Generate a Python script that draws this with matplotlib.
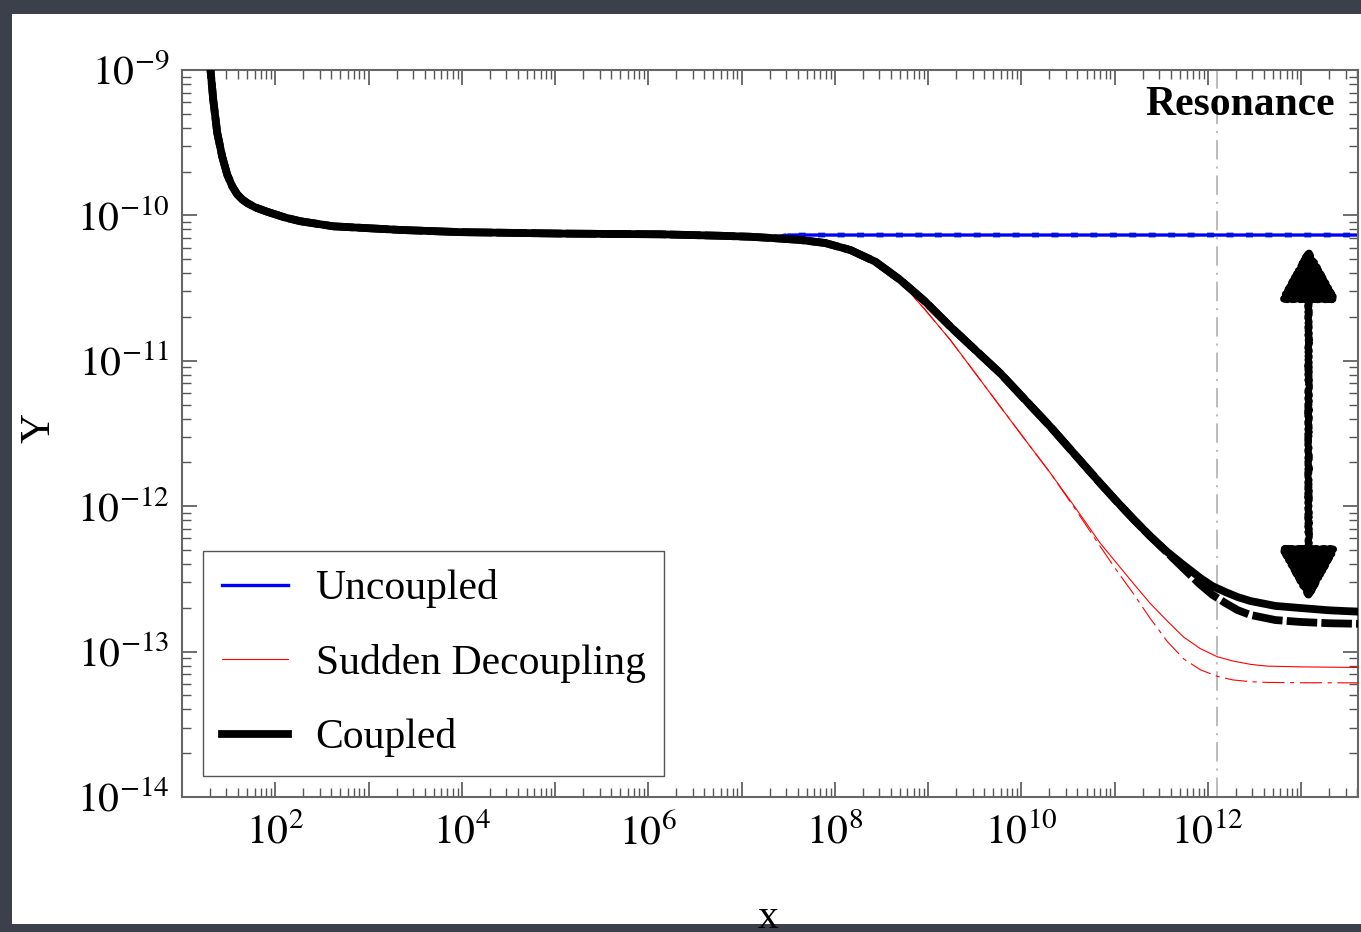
import numpy as np
import matplotlib
matplotlib.use("Agg")
import matplotlib.pyplot as plt
from matplotlib.ticker import LogLocator, FuncFormatter, NullFormatter
from matplotlib.patches import Rectangle, FancyArrowPatch

plt.rcParams['font.family'] = ['Liberation Serif', 'DejaVu Serif']
plt.rcParams['mathtext.fontset'] = 'stix'
plt.rcParams['lines.scale_dashes'] = False

# shared early part of all curves (log10 x, log10 Y)
common_lx = [1.271, 1.303, 1.335, 1.378, 1.432, 1.485, 1.539, 1.592, 1.646, 1.70, 1.786,
             1.914, 2.107, 2.268, 2.622, 3.34, 3.98, 5.06, 6.13, 6.77, 7.10, 7.36]
common_ly = [-8.85, -8.98, -9.206, -9.433, -9.598, -9.72, -9.80, -9.855, -9.89, -9.915,
             -9.945, -9.975, -10.015, -10.04, -10.075, -10.10, -10.115, -10.125, -10.13,
             -10.14, -10.147, -10.157]

# Uncoupled: flat after the plateau
unc_lx = [7.5, 9.0, 11.0, 13.7]
unc_ly = [-10.135, -10.135, -10.135, -10.135]

# Coupled (solid)
cpl_lx = [7.63, 7.898, 8.166, 8.434, 8.702, 8.97, 9.239, 9.507, 9.775, 10.043, 10.311,
          10.579, 10.847, 11.02, 11.20, 11.38, 11.566, 11.75, 11.92, 12.05, 12.188, 12.32,
          12.456, 12.724, 12.99, 13.3, 13.7]
cpl_ly = [-10.169, -10.19, -10.238, -10.318, -10.444, -10.593, -10.765, -10.926, -11.086,
          -11.27, -11.453, -11.648, -11.843, -11.965, -12.088, -12.205, -12.315, -12.41,
          -12.494, -12.55, -12.59, -12.625, -12.652, -12.686, -12.70, -12.716, -12.728]

# Coupled (dashed variant)
cpl2_lx = [7.63, 7.898, 8.166, 8.434, 8.702, 8.97, 9.239, 9.507, 9.775, 10.043, 10.311,
           10.579, 10.847, 11.02, 11.20, 11.38, 11.566, 11.75, 11.92, 12.05, 12.188, 12.32,
           12.456, 12.724, 12.99, 13.3, 13.7]
cpl2_ly = [-10.169, -10.19, -10.238, -10.318, -10.444, -10.593, -10.765, -10.926, -11.086,
           -11.27, -11.453, -11.648, -11.843, -11.965, -12.088, -12.205, -12.32, -12.435,
           -12.54, -12.61, -12.666, -12.715, -12.748, -12.783, -12.796, -12.805, -12.81]

# Sudden decoupling (solid)
sud_lx = [7.63, 7.898, 8.166, 8.434, 8.62, 8.702, 8.97, 9.239, 9.507, 9.775, 10.043,
          10.311, 10.579, 10.847, 11.02, 11.20, 11.38, 11.565, 11.74, 11.92, 12.10, 12.27,
          12.46, 12.64, 13.0, 13.7]
sud_ly = [-10.169, -10.19, -10.238, -10.318, -10.40, -10.456, -10.65, -10.857, -11.086,
          -11.316, -11.545, -11.772, -12.01, -12.255, -12.39, -12.53, -12.667, -12.79,
          -12.90, -12.98, -13.035, -13.065, -13.088, -13.10, -13.105, -13.11]

# Sudden decoupling (dash-dot variant)
sud2_lx = [7.63, 7.898, 8.166, 8.434, 8.62, 8.702, 8.97, 9.239, 9.507, 9.775, 10.043,
           10.311, 10.579, 10.847, 11.02, 11.20, 11.38, 11.565, 11.74, 11.92, 12.10, 12.27,
           12.46, 12.64, 13.0, 13.7]
sud2_ly = [-10.169, -10.19, -10.238, -10.318, -10.40, -10.456, -10.65, -10.857, -11.086,
           -11.316, -11.545, -11.772, -12.02, -12.278, -12.44, -12.60, -12.77, -12.93,
           -13.05, -13.125, -13.17, -13.195, -13.207, -13.212, -13.214, -13.215]

resonance_lx = 12.10
arrow_lx = 13.08
arrow_ly = (-10.19, -12.68)


def curve(lx, ly):
    x = 10.0 ** np.array(common_lx + lx)
    y = 10.0 ** np.array(common_ly + ly)
    return x, y


W, H = 1361, 932
fig = plt.figure(figsize=(W / 100, H / 100), dpi=100, facecolor='#3c404b')
fig.patches.append(Rectangle((12 / W, 8 / H), 1.0, 1 - 22 / H, transform=fig.transFigure,
                             facecolor='white', edgecolor='none', zorder=-10))

ax = fig.add_axes([182 / W, 1 - 797 / H, (1358 - 182) / W, (797 - 70) / H])
ax.set_xscale('log')
ax.set_yscale('log')

x, y = curve(unc_lx, unc_ly)
ax.plot(x, y, color='#0000ff', lw=2.4, label='Uncoupled', zorder=2)
ax.plot(x, y, color='#0010e0', lw=3.4, dashes=(5, 9), zorder=2)

x, y = curve(sud_lx, sud_ly)
ax.plot(x, y, color='red', lw=0.8, label='Sudden Decoupling', zorder=3)
x, y = curve(sud2_lx, sud2_ly)
ax.plot(x, y, color='red', lw=0.8, dashes=(16, 4, 3, 4), zorder=3)

x, y = curve(cpl2_lx, cpl2_ly)
ax.plot(x, y, color='black', lw=5.6, dashes=(22, 3), solid_capstyle='butt', zorder=4)
x, y = curve(cpl_lx, cpl_ly)
ax.plot(x, y, color='black', lw=5.6, label='Coupled', zorder=5)

ax.axvline(10 ** resonance_lx, color='#b0b0b0', lw=1.2, dashes=(14, 5, 1.5, 5), zorder=1)

arr = FancyArrowPatch((10 ** arrow_lx, 10 ** arrow_ly[1]), (10 ** arrow_lx, 10 ** arrow_ly[0]),
                      arrowstyle='<|-|>,head_length=1.1,head_width=0.6', mutation_scale=30,
                      color='black', lw=5.0, zorder=6)
arr.set_sketch_params(scale=0.8, length=3, randomness=6)
ax.add_patch(arr)

ax.text(0.980, 0.938, 'Resonance', transform=ax.transAxes, ha='right', va='baseline',
        fontsize=30, fontweight='bold')

ax.set_xlim(10 ** 1.0, 10 ** 13.61)
ax.set_ylim(1e-14, 1e-9)

ax.xaxis.set_major_locator(LogLocator(base=10, numticks=30))
ax.xaxis.set_minor_locator(LogLocator(base=10, subs=np.arange(2, 10), numticks=30))
ax.xaxis.set_major_formatter(FuncFormatter(
    lambda v, p: r'$10^{%d}$' % round(np.log10(v)) if round(np.log10(v)) % 2 == 0 else ''))
ax.xaxis.set_minor_formatter(NullFormatter())
ax.yaxis.set_major_locator(LogLocator(base=10, numticks=30))
ax.yaxis.set_minor_locator(LogLocator(base=10, subs=np.arange(2, 10), numticks=30))
ax.yaxis.set_major_formatter(FuncFormatter(lambda v, p: r'$10^{%d}$' % round(np.log10(v))))
ax.yaxis.set_minor_formatter(NullFormatter())

ax.tick_params(which='both', direction='in', top=True, right=True, color='#555555',
               labelsize=30)
ax.tick_params(which='major', length=11, width=1.2)
ax.tick_params(which='minor', length=6.5, width=1.0)
ax.tick_params(axis='x', which='major', pad=12)
ax.tick_params(axis='y', which='major', pad=9)
for s in ax.spines.values():
    s.set_color('#666666')
    s.set_linewidth(1.5)

ax.set_xlabel('x', fontsize=30)
ax.set_ylabel('Y', fontsize=30)
ax.xaxis.set_label_coords(0.498, -0.14)
ax.yaxis.set_label_coords(-0.105, 0.508)

leg = ax.legend(loc='lower left', bbox_to_anchor=(0.0179, 0.0289), borderaxespad=0,
                fontsize=30, handlelength=1.6, handletextpad=0.65, labelspacing=0.85,
                borderpad=0.45, fancybox=False, framealpha=1, edgecolor='#555555')
leg.get_frame().set_linewidth(1.0)

fig.savefig('out.png', dpi=100, facecolor=fig.get_facecolor())
